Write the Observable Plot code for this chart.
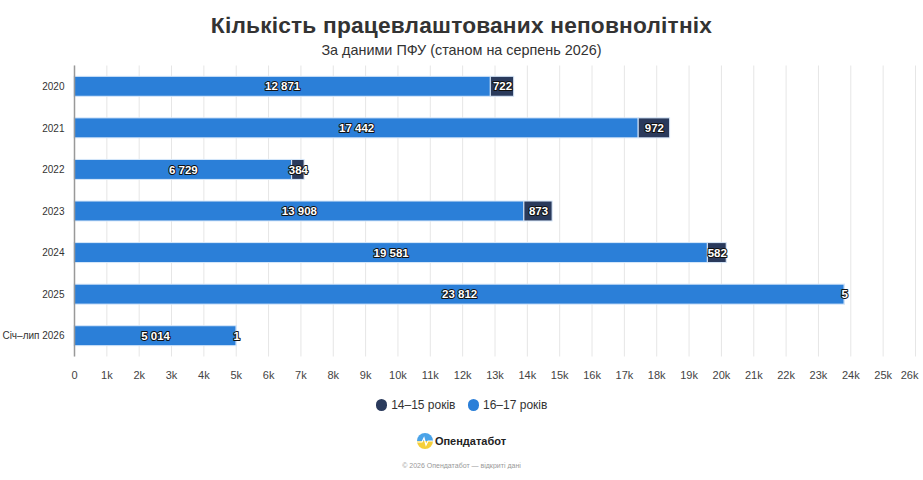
<!DOCTYPE html>
<html>
<head>
<meta charset="utf-8">
<script src="https://cdn.jsdelivr.net/npm/d3@7"></script>
<script src="https://cdn.jsdelivr.net/npm/@observablehq/plot@0.6"></script>
<style>
  body { margin: 0; background: #fff; font-family: "Liberation Sans", Arial, sans-serif; width: 923px; }
  .title { text-align: center; font-size: 22.7px; font-weight: bold; color: #333; margin-top: 12px; line-height: 26px; letter-spacing: 0.2px; }
  .subtitle { text-align: center; font-size: 14.4px; color: #333; line-height: 18px; margin-top: 3px; }
  #chart { height: 330px; margin-top: 0px; }
  .legend { display: flex; justify-content: center; gap: 12px; font-size: 12px; color: #333; margin-top: 7px; height: 18px; align-items: center; }
  .legend span.item { display: flex; align-items: center; gap: 4px; }
  .legend .dot { width: 11.5px; height: 11.5px; border-radius: 50%; display: inline-block; }
  .brand { display: flex; justify-content: center; align-items: center; gap: 2px; margin-top: 19px; font-size: 11px; font-weight: bold; color: #222; }
  .copy { text-align: center; font-size: 7px; color: #999; margin-top: 13px; }
</style>
</head>
<body>
<div class="title">Кількість працевлаштованих неповнолітніх</div>
<div class="subtitle">За даними ПФУ (станом на серпень 2026)</div>
<div id="chart"></div>
<div class="legend" id="legend"></div>
<div class="brand">
  <svg width="16" height="16" viewBox="0 0 16 16">
    <defs><clipPath id="c"><circle cx="8" cy="8" r="8"/></clipPath></defs>
    <g clip-path="url(#c)">
      <rect x="0" y="0" width="16" height="8" fill="#4aa3e8"/>
      <rect x="0" y="8" width="16" height="8" fill="#f5cf3a"/>
      <polyline points="0,9 5,9 7,5 9,12 11,8 16,8" fill="none" stroke="#fff" stroke-width="1.2"/>
    </g>
  </svg>
  <span>Опендатабот</span>
</div>
<div class="copy">© 2026 Опендатабот — відкриті дані</div>
<script>
const years = ["2020", "2021", "2022", "2023", "2024", "2025", "Січ–лип 2026"];
const seriesNames = ["16–17 років", "14–15 років"];
const legendOrder = ["14–15 років", "16–17 років"];
const colors = ["#2b7fd8", "#2a3a5c"];
const values16_17 = [12871, 17442, 6729, 13908, 19581, 23812, 5014];
const values14_15 = [722, 972, 384, 873, 582, 5, 1];
const xTicks = d3.range(0, 27000, 1000);

const data = [];
years.forEach((y, i) => data.push({year: y, group: seriesNames[0], value: values16_17[i]}));
years.forEach((y, i) => data.push({year: y, group: seriesNames[1], value: values14_15[i]}));

const fmt = n => d3.format(",")(n).replace(/,/g, " ");
const tickFmt = d => d === 0 ? "0" : (d / 1000) + "k";
const lastTick = xTicks[xTicks.length - 1];

const plot = Plot.plot({
  width: 923,
  height: 330,
  marginLeft: 74,
  marginRight: 8,
  marginTop: 6.5,
  marginBottom: 32.5,
  style: { fontFamily: "'Liberation Sans', Arial, sans-serif", fontSize: "11px", color: "#444" },
  x: { domain: [0, 26000], ticks: xTicks, tickFormat: tickFmt, grid: false, label: null },
  y: { domain: years, paddingInner: 0.52, paddingOuter: 0.26, round: false, label: null },
  color: { domain: seriesNames, range: colors },
  marks: [
    Plot.gridX(xTicks, { stroke: "#e6e6e6", strokeOpacity: 1 }),
    Plot.axisX({ ticks: xTicks.slice(0, -1), tickFormat: tickFmt, tickSize: 0, tickPadding: 14, label: null, fill: "#444" }),
    Plot.axisX({ ticks: [lastTick], tickFormat: tickFmt, tickSize: 0, tickPadding: 14, label: null, fill: "#444", textAnchor: "end", dx: 3 }),
    Plot.axisY({ tickSize: 0, tickPadding: 10, label: null, fill: "#333", fontSize: 10 }),
    Plot.barX(data, Plot.stackX({ x: "value", y: "year", fill: "group", stroke: "#d8e8fa", strokeWidth: 1, order: seriesNames })),
    Plot.ruleX([0], { stroke: "#999", strokeWidth: 1.5 }),
    Plot.text(data, Plot.stackX({
      x: "value", y: "year", z: "group", order: seriesNames,
      text: d => fmt(d.value),
      fill: "#fff", stroke: "#111", strokeWidth: 2, fontWeight: "bold", fontSize: 11.5
    }))
  ]
});
document.getElementById("chart").appendChild(plot);

const legend = document.getElementById("legend");
legendOrder.forEach(name => {
  const item = document.createElement("span");
  item.className = "item";
  const dot = document.createElement("span");
  dot.className = "dot";
  dot.style.background = colors[seriesNames.indexOf(name)];
  item.appendChild(dot);
  item.appendChild(document.createTextNode(name));
  legend.appendChild(item);
});
</script>
</body>
</html>
